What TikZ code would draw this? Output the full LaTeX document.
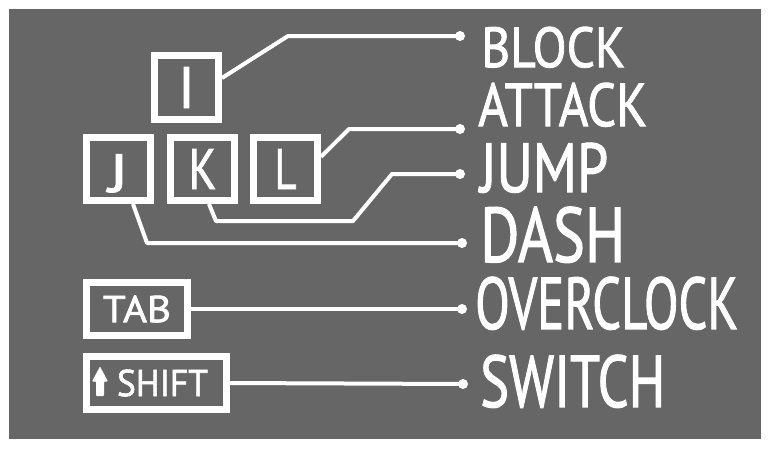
\documentclass[tikz,border=0pt]{standalone}
\usepackage{fontspec}
\setmainfont{PT Sans}
\newfontfamily\handfont[FakeBold=1.6]{PT Sans}
\usetikzlibrary{calc}
\definecolor{bggray}{HTML}{666666}
\begin{document}
\begin{tikzpicture}[x=1pt,y=-1pt,
  keybox/.style={draw=white, line width=7pt, text=white, inner sep=0pt,
    minimum width=64pt, minimum height=64pt, font=\handfont},
  wire/.style={draw=white, line width=4pt, line join=round},
  dotmark/.style={fill=white},
  lbl/.style={anchor=south west, inner sep=0pt, text=white, font=\handfont}]
\useasboundingbox (0,0) rectangle (770,448);
\fill[white] (0,0) rectangle (770,448);
\fill[bggray] (9,9) rectangle (761,439);

% keys
\node[keybox] (I) at (186.5,87.5) {\resizebox*{!}{41pt}{I}};
\node[keybox, minimum height=63pt] (J) at (118.5,169)
  {\raisebox{-23pt}[0pt][0pt]{\scalebox{1.25}[1]{\fontsize{54}{54}\selectfont J}}};
\node[keybox, minimum height=63pt] (K) at (202.5,169) {\resizebox*{28pt}{40pt}{K}};
\node[keybox, minimum height=63pt] (L) at (285.5,169) {\resizebox*{22pt}{40pt}{L}};
\node[keybox, minimum width=101pt, minimum height=53pt] (TAB) at (137,309) {\resizebox*{68pt}{27pt}{TAB}};
\node[keybox, minimum width=140pt, minimum height=53pt] (SHIFT) at (156.5,383)
  {\hspace*{24pt}\resizebox*{91pt}{27pt}{SHIFT}\hspace*{12pt}};
% shift arrow
\fill[white, rounded corners=0.8pt] ($(SHIFT.west)+(17,-16.5)$) -- ++(8,15) -- ++(-4,0) -- ++(0,14.5)
  -- ++(-8,0) -- ++(0,-14.5) -- ++(-4,0) -- cycle;

% dot ends
\coordinate (dB) at (460,36);
\coordinate (dA) at (460,129);
\coordinate (dJ) at (460,174);
\coordinate (dD) at (462,243);
\coordinate (dO) at (462,309);
\coordinate (dS) at (463,384);

% wires
\draw[wire] (I.15) -- (288,36) -- (dB);
\draw[wire] (L.19) -- (349,129) -- (dA);
\draw[wire] ([xshift=6.5pt]K.south) -- (216,221) -- (353,221) -- (392,174) -- (dJ);
\draw[wire] ([xshift=14.5pt]J.south) -- (147,243) -- (dD);
\draw[wire] (TAB.east) -- (dO);
\draw[wire] (SHIFT.east) -- (dS);

\foreach \d in {dB,dA,dJ,dD,dO,dS} \fill[dotmark] (\d) circle (5pt);

% labels
\node[lbl] (lB) at (481,68) {\resizebox*{144pt}{41pt}{BLOCK}};
\node[lbl] (lA) at (478,127) {\resizebox*{169pt}{44pt}{ATTACK}};
\node[lbl] (lJ) at (480,193) {\resizebox*{128pt}{50pt}{JUMP}};
\node[lbl] (lD) at (480,263) {\resizebox*{145pt}{56pt}{DASH}};
\node[lbl] (lO) at (475,330) {\resizebox*{263pt}{53pt}{OVERCLOCK}};
\node[lbl] (lS) at (480,408) {\resizebox*{185pt}{53pt}{SWITCH}};
\end{tikzpicture}
\end{document}
